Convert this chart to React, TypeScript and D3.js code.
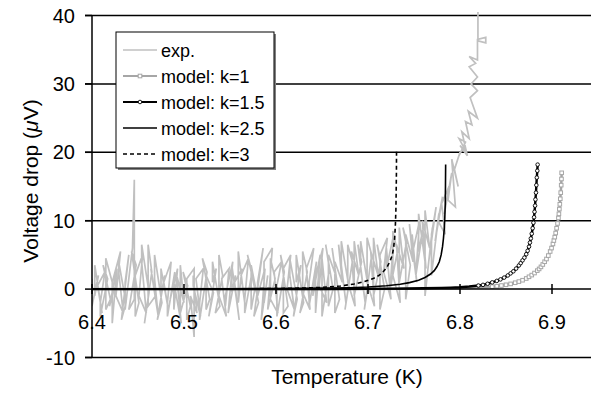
import React from "react";
import * as d3 from "d3";

// ---------- data ----------
const xTicks = [6.4, 6.5, 6.6, 6.7, 6.8, 6.9];
const yTicks = [-10, 0, 10, 20, 30, 40];
const gridValues = [-10, 10, 20, 30, 40];

// experimental trace: [Temperature K, Voltage µV]
const expData: [number, number][] = [
  [6.400,1.5],[6.400,-2.5],[6.407,2.0],[6.403,-1.0],[6.403,3.5],[6.411,-3.5],[6.406,0.5],[6.414,2.5],[6.409,-2.0],[6.409,-4.0],
  [6.417,1.5],[6.412,3.5],[6.420,-1.5],[6.415,-3.0],[6.415,4.5],[6.424,0.0],[6.419,-2.5],[6.427,3.0],[6.422,-5.0],[6.422,1.0],
  [6.431,5.5],[6.426,-1.0],[6.434,-3.5],[6.429,2.5],[6.429,4.0],[6.437,-2.0],[6.432,-4.5],[6.440,5.0],[6.436,1.0],[6.436,-3.0],
  [6.444,6.0],[6.446,16.0],[6.446,-1.5],[6.440,-3.0],[6.448,3.5],[6.443,5.5],[6.451,-2.0],[6.447,-4.0],[6.447,2.0],[6.455,5.0],
  [6.451,-1.0],[6.459,-3.5],[6.454,4.0],[6.454,6.5],[6.462,-0.5],[6.457,-5.0],[6.465,2.5],[6.461,6.5],[6.461,-2.5],[6.469,-1.0],
  [6.464,3.0],[6.472,-4.0],[6.468,1.5],[6.468,5.0],[6.476,-2.0],[6.471,-4.5],[6.479,2.0],[6.475,-1.0],[6.475,3.0],[6.483,-3.0],
  [6.478,1.0],[6.486,4.0],[6.482,-2.0],[6.482,-4.0],[6.490,2.5],[6.485,-1.5],[6.493,3.0],[6.489,-3.0],[6.489,1.0],[6.497,-5.0],
  [6.492,2.0],[6.500,-2.0],[6.496,3.5],[6.496,-3.5],
  [6.504,0.5],[6.499,2.5],[6.507,-2.5],[6.503,-4.5],[6.503,1.5],[6.511,3.0],[6.511,-7.0],[6.507,-1.0],[6.514,-3.5],[6.510,2.0],
  [6.510,0.5],[6.518,-4.0],[6.513,1.5],[6.521,3.0],[6.517,-2.0],[6.517,-4.5],[6.525,2.5],[6.520,4.5],[6.528,-1.5],[6.524,-3.0],
  [6.524,2.0],[6.532,-0.5],[6.527,-4.0],[6.535,3.0],[6.531,1.0],[6.531,4.0],[6.539,-2.5],[6.534,-3.5],[6.542,2.0],[6.538,5.0],
  [6.538,-1.0],[6.546,-4.0],[6.541,1.5],[6.549,3.0],[6.545,-2.5],[6.545,-1.0],[6.553,4.0],[6.548,-3.5],[6.556,2.0],[6.552,-0.5],
  [6.552,3.5],[6.560,-4.5],[6.555,1.0],[6.563,3.0],[6.559,-2.0],[6.559,5.5],[6.567,-3.0],[6.562,2.0],[6.570,4.5],[6.566,-1.5],
  [6.566,-3.5],[6.574,2.5],[6.569,5.0],[6.577,0.0],[6.573,-3.0],[6.573,3.5],[6.581,-2.0],[6.576,-4.0],[6.586,6.0],[6.580,1.0],
  [6.580,-1.0],[6.588,3.0],[6.584,-4.5],[6.591,2.0],[6.587,-2.0],[6.587,4.0],[6.596,6.0],[6.591,-3.0],[6.599,1.5],[6.594,4.5],
  [6.594,-1.5],[6.602,-3.5],[6.598,2.5],[6.606,4.0],[6.601,0.5],[6.601,-4.0],[6.609,2.5],[6.605,5.0],[6.613,-2.5],[6.608,-3.5],
  [6.608,3.0],[6.616,5.0],[6.612,0.0],[6.620,-3.0],[6.615,2.0],[6.615,4.5],[6.623,-1.5],[6.619,-4.0],[6.627,3.5],[6.622,1.0],
  [6.622,5.0],[6.630,-2.0],[6.626,-3.5],[6.634,2.5],[6.629,5.5],[6.629,-0.5],[6.637,-3.0],[6.633,3.0],[6.641,6.0],[6.636,1.0],
  [6.636,-2.5],[6.644,4.0],[6.640,-1.0],[6.648,5.0],[6.643,-3.5],[6.643,2.0],[6.651,6.0],[6.647,0.5],[6.655,-2.0],[6.650,4.5],
  [6.650,-4.0],[6.658,3.0],[6.654,6.5],[6.662,0.0],[6.657,-2.5],[6.657,5.0],[6.665,2.0],[6.661,6.0],[6.669,-1.5],[6.664,-3.5],
  [6.664,4.0],[6.672,1.0],[6.668,6.5],[6.676,-2.0],[6.671,3.5],[6.671,7.0],[6.679,0.5],[6.675,-3.0],[6.683,4.0],[6.678,6.5],
  [6.678,1.0],[6.686,-2.5],[6.682,5.5],[6.690,2.0],[6.685,7.0],[6.685,-1.0],[6.693,4.0],[6.689,6.5],[6.697,-2.0],[6.692,3.0],
  [6.692,7.0],[6.700,0.5],[6.696,-3.0],[6.704,5.0],[6.699,7.5],[6.699,1.0],[6.707,-2.5],[6.703,5.5],[6.711,2.0],[6.706,7.5],
  [6.706,-1.0],[6.714,4.0],[6.710,6.5],[6.718,0.0],[6.713,-3.0],[6.713,5.0],[6.721,7.5],[6.717,2.5],[6.725,-1.5],[6.720,6.0],
  [6.720,3.0],[6.728,8.0],[6.724,0.0],[6.732,5.5],[6.727,8.5],[6.727,2.0],[6.735,-2.0],[6.731,6.5],[6.739,3.0],[6.734,9.0],
  [6.734,1.0],[6.742,7.0],[6.738,9.0],[6.746,3.5],[6.741,-1.5],[6.741,8.0],[6.749,4.0],[6.745,9.5],[6.753,1.0],[6.748,8.0],
  [6.748,5.0],[6.756,10.0],[6.752,2.0],[6.760,9.0],[6.755,5.5],[6.755,11.0],[6.763,3.0],[6.759,10.0],[6.767,6.0],[6.762,11.5],
  [6.762,-1.0],[6.770,9.0],[6.766,4.0],[6.774,12.0],[6.769,8.0],[6.769,2.0],[6.777,11.0],[6.773,7.0],[6.781,13.5],[6.776,10.0],
  [6.784,8.0],[6.780,12.5],[6.788,15.0],[6.783,11.0],[6.791,17.0],[6.787,13.0],[6.795,12.0],[6.791,19.0],[6.798,15.0],[6.794,17.5],
  [6.800,20.0],[6.799,19.5],[6.806,21.5],[6.799,22.0],[6.807,20.0],[6.800,21.0],[6.808,19.5],[6.802,23.0],[6.810,22.0],[6.806,24.5],
  [6.813,24.0],[6.809,26.0],[6.819,25.0],[6.811,28.0],[6.819,29.0],[6.812,30.0],[6.819,31.0],[6.810,32.5],[6.817,33.0],[6.810,34.0],
  [6.819,33.5],[6.819,36.5],[6.828,36.8],[6.828,36.0],[6.8195,36.3],[6.8195,44.0]
];

// model curves: [Temperature K, Voltage µV]
const modelK1: [number, number][] = [
  [6.40,0],[6.45,0],[6.50,0],[6.55,0],[6.60,0],[6.65,0.01],[6.70,0.02],[6.74,0.04],[6.77,0.07],[6.79,0.1],
  [6.80,0.13],[6.81,0.17],[6.82,0.22],[6.83,0.3],[6.835,0.36],[6.84,0.43],[6.845,0.52],[6.85,0.63],[6.855,0.76],[6.86,0.93],
  [6.864,1.1],[6.868,1.3],[6.872,1.55],[6.875,1.8],[6.878,2.05],[6.881,2.35],[6.884,2.7],[6.886,2.95],[6.888,3.25],[6.890,3.6],
  [6.892,4.0],[6.894,4.4],[6.896,4.9],[6.898,5.5],[6.8995,6.0],[6.901,6.6],[6.902,7.1],[6.903,7.6],[6.904,8.2],[6.905,8.9],
  [6.906,9.6],[6.907,10.4],[6.9075,11.0],[6.908,11.7],[6.9085,12.4],[6.909,13.2],[6.9095,14.1],[6.910,15.2],[6.9103,16.1],[6.9105,17.0]
];
const modelK15: [number, number][] = [
  [6.40,0],[6.45,0],[6.50,0],[6.55,0],[6.60,0.01],[6.65,0.02],[6.70,0.04],[6.73,0.07],[6.76,0.12],[6.78,0.18],
  [6.79,0.22],[6.80,0.28],[6.81,0.38],[6.82,0.52],[6.825,0.62],[6.83,0.78],[6.835,0.98],[6.84,1.2],[6.844,1.42],[6.848,1.68],
  [6.852,2.0],[6.855,2.3],[6.858,2.6],[6.861,3.0],[6.864,3.45],[6.866,3.8],[6.868,4.2],[6.870,4.6],[6.872,5.1],[6.8735,5.6],
  [6.875,6.2],[6.876,6.8],[6.877,7.4],[6.878,8.1],[6.879,8.9],[6.8798,9.7],[6.8805,10.5],[6.881,11.3],[6.8816,12.2],[6.882,13.1],
  [6.8826,14.1],[6.883,15.2],[6.8835,16.3],[6.884,17.3],[6.8844,18.2]
];
const modelK25: [number, number][] = [
  [6.40,0],[6.50,0],[6.55,0.02],[6.60,0.05],[6.64,0.1],[6.68,0.2],[6.70,0.3],[6.72,0.5],[6.735,0.7],[6.745,0.95],
  [6.755,1.3],[6.762,1.7],[6.768,2.2],[6.772,2.7],[6.775,3.3],[6.7775,4.0],[6.7795,5.0],[6.781,6.2],[6.782,7.4],[6.783,9.0],
  [6.7835,10.5],[6.784,12.5],[6.7842,15],[6.7844,18.2]
];
const modelK3: [number, number][] = [
  [6.40,0],[6.50,0.01],[6.55,0.03],[6.60,0.08],[6.63,0.15],[6.65,0.25],[6.67,0.45],[6.685,0.75],[6.695,1.05],[6.705,1.5],
  [6.712,2.0],[6.717,2.6],[6.721,3.3],[6.724,4.1],[6.7265,5.0],[6.728,6.2],[6.729,7.5],[6.7298,9.5],[6.7303,11.5],[6.7306,14],
  [6.7309,17],[6.731,20.3]
];

const legendLabels = ["exp.", "model: k=1", "model: k=1.5", "model: k=2.5", "model: k=3"];

// ---------- layout ----------
const W = 591, H = 397;
const x = d3.scaleLinear().domain([6.4, 7.0]).range([92, 644]);
const y = d3.scaleLinear().domain([-10, 40]).range([357.5, 15.5]);
const line = d3.line<[number, number]>().x(d => x(d[0])).y(d => y(d[1]));
const FONT = "Arial, 'Liberation Sans', sans-serif";

export default function App() {
  const y0 = y(0);
  const legX = 116, legY = 32, legW = 158, legH = 136;
  const rowY = [50, 76, 102, 128, 154];
  const sx1 = legX + 7, sx2 = legX + 41;
  return (
    <svg width={W} height={H} style={{ position: "absolute", left: 0, top: 0, background: "#fff" }} fontFamily={FONT}>
      <defs>
        <clipPath id="plot">
          <rect x={92} y={12} width={W - 92} height={350} />
        </clipPath>
      </defs>
      {gridValues.map(v => (
        <line key={v} x1={85} x2={W} y1={y(v)} y2={y(v)} stroke="#000" strokeWidth={1.5} />
      ))}
      <g clipPath="url(#plot)">
        <path d={line(expData) || ""} fill="none" stroke="#c0c0c0" strokeWidth={1.7} strokeLinejoin="miter" />
        <path d={line(modelK1) || ""} fill="none" stroke="#a6a6a6" strokeWidth={2.5} />
        {modelK1.filter(d => d[1] > 0.3).map((d, i) => (
          <rect key={i} x={x(d[0]) - 1.8} y={y(d[1]) - 1.8} width={3.6} height={3.6} fill="#fff" stroke="#a6a6a6" strokeWidth={1} />
        ))}
        <path d={line(modelK15) || ""} fill="none" stroke="#000" strokeWidth={2.4} />
        {modelK15.filter(d => d[1] > 0.5).map((d, i) => (
          <circle key={i} cx={x(d[0])} cy={y(d[1])} r={1.8} fill="#fff" stroke="#000" strokeWidth={0.9} />
        ))}
        <path d={line(modelK25) || ""} fill="none" stroke="#000" strokeWidth={1.6} />
        <path d={line(modelK3) || ""} fill="none" stroke="#000" strokeWidth={1.6} strokeDasharray="4,3" />
      </g>
      <line x1={92} x2={92} y1={y(40)} y2={y(-10)} stroke="#000" strokeWidth={1.5} />
      {yTicks.map(v => (
        <g key={v}>
          <line x1={85} x2={92} y1={y(v)} y2={y(v)} stroke="#000" strokeWidth={1.5} />
          <text x={75} y={y(v) + 7} textAnchor="end" fontSize={20} fill="#000">{v}</text>
        </g>
      ))}
      <line x1={92} x2={W} y1={y0} y2={y0} stroke="#000" strokeWidth={1.5} />
      {xTicks.map(v => (
        <g key={v}>
          <line x1={x(v)} x2={x(v)} y1={y0 - 5} y2={y0 + 5} stroke="#000" strokeWidth={1.5} />
          <text x={x(v)} y={y0 + 40} textAnchor="middle" fontSize={20} fill="#000">{v.toFixed(1)}</text>
        </g>
      ))}
      <text x={347} y={384} textAnchor="middle" fontSize={21} fill="#000">Temperature (K)</text>
      <text transform={`translate(38,181) rotate(-90)`} textAnchor="middle" fontSize={21} fill="#000">
        Voltage drop (<tspan fontStyle="italic">μ</tspan>V)
      </text>
      <rect x={legX + 2} y={legY + 2} width={legW} height={legH} fill="#808080" />
      <rect x={legX} y={legY} width={legW} height={legH} fill="#fff" stroke="#000" strokeWidth={1} />
      {legendLabels.map((lab, i) => {
        const ry = rowY[i];
        const mx = (sx1 + sx2) / 2;
        return (
          <g key={lab}>
            {i === 0 && <line x1={sx1} x2={sx2} y1={ry} y2={ry} stroke="#c0c0c0" strokeWidth={1.6} />}
            {i === 1 && (
              <g>
                <line x1={sx1} x2={sx2} y1={ry} y2={ry} stroke="#a6a6a6" strokeWidth={2} />
                <rect x={mx - 1.8} y={ry - 1.8} width={3.6} height={3.6} fill="#fff" stroke="#a6a6a6" strokeWidth={1} />
              </g>
            )}
            {i === 2 && (
              <g>
                <line x1={sx1} x2={sx2} y1={ry} y2={ry} stroke="#000" strokeWidth={2.2} />
                <circle cx={mx} cy={ry} r={1.8} fill="#fff" stroke="#000" strokeWidth={0.9} />
              </g>
            )}
            {i === 3 && <line x1={sx1} x2={sx2} y1={ry} y2={ry} stroke="#000" strokeWidth={1.6} />}
            {i === 4 && <line x1={sx1} x2={sx2} y1={ry} y2={ry} stroke="#000" strokeWidth={1.6} strokeDasharray="4,3" />}
            <text x={legX + 45} y={ry + 6.5} fontSize={18} fill="#000">{lab}</text>
          </g>
        );
      })}
    </svg>
  );
}
